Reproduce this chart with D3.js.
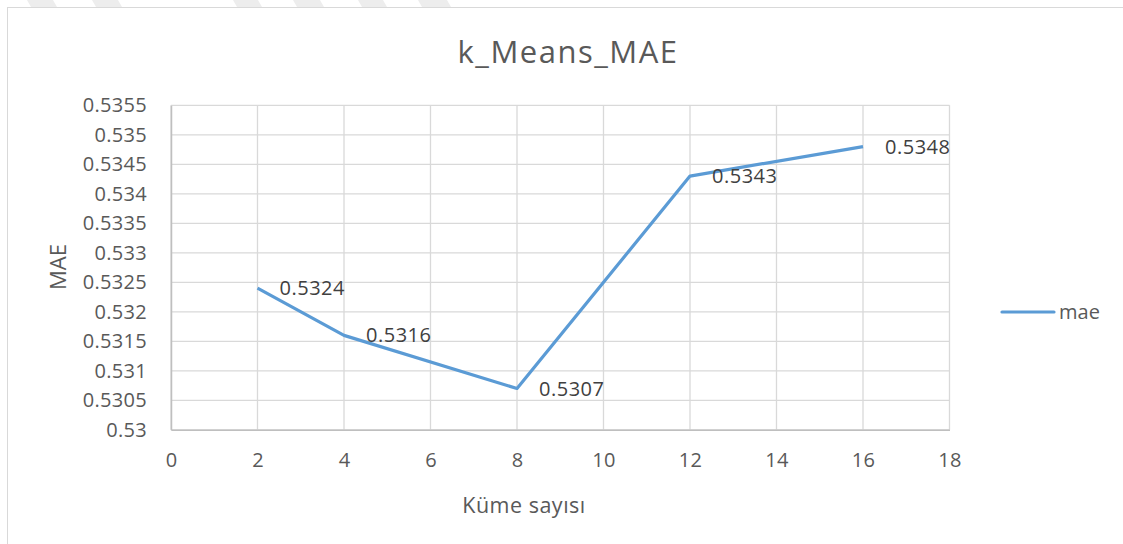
<!DOCTYPE html>
<html><head><meta charset="utf-8">
<script src="https://cdn.jsdelivr.net/npm/d3@7"></script>
<style>body{margin:0;background:#fff}svg{display:block}</style>
</head><body>
<script>
const xValues = [2, 4, 8, 12, 16];
const maeValues = [0.5324, 0.5316, 0.5307, 0.5343, 0.5348];
const valueLabels = ["0.5324", "0.5316", "0.5307", "0.5343", "0.5348"];
const xTicks = [0, 2, 4, 6, 8, 10, 12, 14, 16, 18];
const yTicks = [0.53, 0.5305, 0.531, 0.5315, 0.532, 0.5325, 0.533, 0.5335, 0.534, 0.5345, 0.535, 0.5355];
const yTickLabels = ["0.53", "0.5305", "0.531", "0.5315", "0.532", "0.5325", "0.533", "0.5335", "0.534", "0.5345", "0.535", "0.5355"];
const title = "k_Means_MAE";
const xTitle = "Küme sayısı";
const yTitle = "MAE";
const seriesName = "mae";

const W = 1123, H = 544;
const font = "'Open Sans', sans-serif";
const txt = "#595959";
const svg = d3.select("body").append("svg").attr("width", W).attr("height", H);

// faint watermark stripes at the very top
const stripes = [[27, 53], [92, 118], [233, 258], [293, 320], [358, 383], [418, 447]];
svg.selectAll("polygon.wm").data(stripes).join("polygon")
  .attr("points", d => `${d[0]},0 ${d[1]},0 ${d[1] + 4},7 ${d[0] + 4},7`)
  .attr("fill", "#ededed");

// chart border
svg.append("rect").attr("x", 7.5).attr("y", 7.5).attr("width", W + 10).attr("height", H + 10)
  .attr("fill", "#fff").attr("stroke", "#d9d9d9").attr("stroke-width", 1);

const L = 171, R = 949.5, T = 105.3, B = 429.8;
const x = d3.scaleLinear().domain([0, 18]).range([L, R]);
const y = d3.scaleLinear().domain([0.53, 0.5355]).range([B, T]);

// grid
svg.append("g").selectAll("line").data(yTicks).join("line")
  .attr("x1", L).attr("x2", R).attr("y1", d => y(d)).attr("y2", d => y(d))
  .attr("stroke", "#d9d9d9").attr("stroke-width", 1.3);
svg.append("g").selectAll("line").data(xTicks).join("line")
  .attr("y1", T).attr("y2", B).attr("x1", d => x(d)).attr("x2", d => x(d))
  .attr("stroke", "#d9d9d9").attr("stroke-width", 1.3);

// axes
const xAxis = svg.append("g").attr("transform", `translate(0,${B})`)
  .call(d3.axisBottom(x).tickValues(xTicks).tickSize(0).tickPadding(23));
const yAxis = svg.append("g").attr("transform", `translate(${L},0)`)
  .call(d3.axisLeft(y).tickValues(yTicks).tickSize(0).tickPadding(24)
    .tickFormat((d, i) => yTickLabels[i]));
[xAxis, yAxis].forEach(g => {
  g.select(".domain").attr("stroke", "#bfbfbf").attr("stroke-width", 1.5);
  g.selectAll("text").attr("fill", txt).attr("font-family", font).attr("font-size", 20)
    .attr("letter-spacing", "0.3px");
});

// line
const pts = xValues.map((v, i) => [v, maeValues[i]]);
svg.append("path").datum(pts)
  .attr("fill", "none").attr("stroke", "#5b9bd5").attr("stroke-width", 3.2)
  .attr("stroke-linejoin", "round")
  .attr("d", d3.line().x(d => x(d[0])).y(d => y(d[1])));

// data labels
svg.append("g").selectAll("text").data(pts).join("text")
  .attr("x", d => x(d[0]) + 22).attr("y", d => y(d[1]))
  .attr("dy", "0.35em")
  .attr("fill", "#404040").attr("font-family", font).attr("font-size", 20)
  .attr("letter-spacing", "0.5px")
  .text((d, i) => valueLabels[i]);

// title
svg.append("text").attr("x", 568).attr("y", 63).attr("text-anchor", "middle")
  .attr("fill", txt).attr("font-family", font).attr("font-size", 31)
  .attr("letter-spacing", "1.5px").text(title);
// axis titles
svg.append("text").attr("x", 524).attr("y", 505).attr("dy", "0.35em").attr("text-anchor", "middle")
  .attr("fill", txt).attr("font-family", font).attr("font-size", 21.5)
  .attr("letter-spacing", "0.5px").text(xTitle);
svg.append("text").attr("transform", "translate(58,267) rotate(-90)").attr("dy", "0.35em")
  .attr("text-anchor", "middle")
  .attr("fill", txt).attr("font-family", font).attr("font-size", 22).text(yTitle);

// legend
svg.append("line").attr("x1", 1002).attr("x2", 1054).attr("y1", 312).attr("y2", 312)
  .attr("stroke", "#5b9bd5").attr("stroke-width", 3.2).attr("stroke-linecap", "round");
svg.append("text").attr("x", 1059).attr("y", 312).attr("dy", "0.35em")
  .attr("fill", txt).attr("font-family", font).attr("font-size", 20).text(seriesName);
</script>
</body></html>
